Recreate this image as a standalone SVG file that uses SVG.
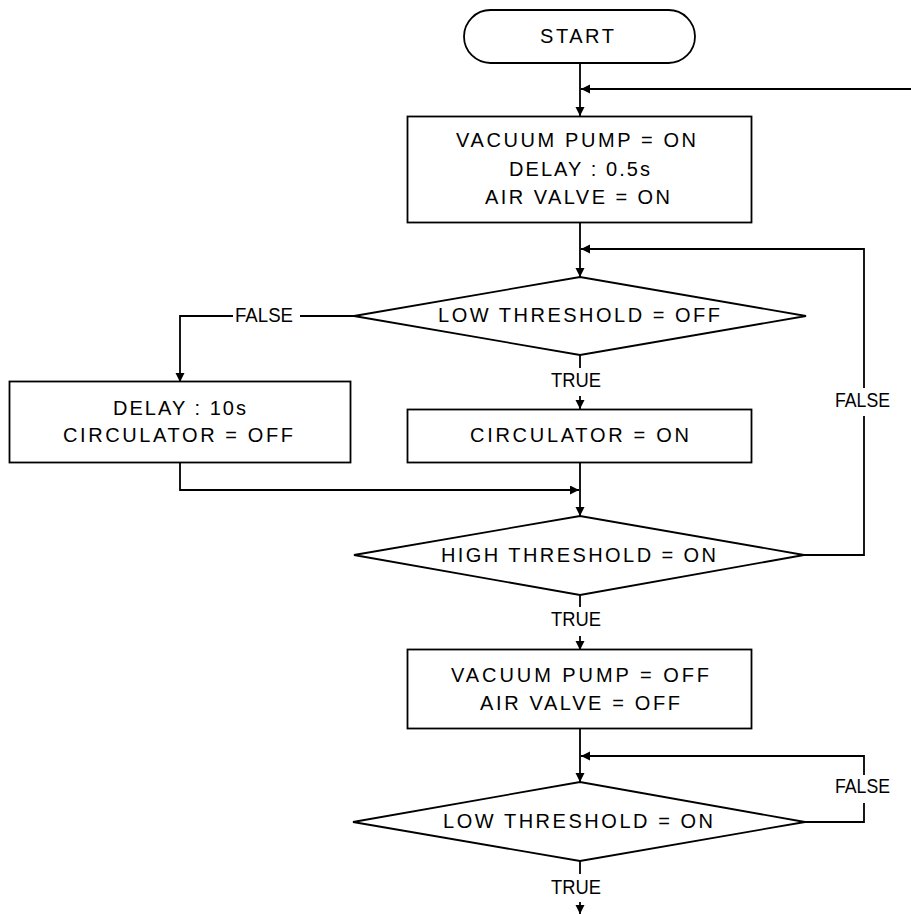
<svg xmlns="http://www.w3.org/2000/svg" width="911" height="914" viewBox="0 0 911 914">
<defs>
<style>
.s{fill:#fff;stroke:#000;stroke-width:1.8}
.c{fill:none;stroke:#000;stroke-width:1.8}
text{font-family:"Liberation Sans",Arial,sans-serif;font-size:20px;fill:#000}
</style>
<marker id="ah" markerUnits="userSpaceOnUse" markerWidth="10" markerHeight="10" refX="9" refY="4.5" orient="auto" viewBox="0 0 10 10">
<path d="M0,0 L9,4.5 L0,9 Z" fill="#000"/>
</marker>
</defs>
<rect width="911" height="914" fill="#fff"/>
<g id="connectors">
<line class="c" x1="580" y1="63" x2="580" y2="116" marker-end="url(#ah)"/>
<line class="c" x1="911" y1="89" x2="581" y2="89" marker-end="url(#ah)"/>
<line class="c" x1="580" y1="223" x2="580" y2="277" marker-end="url(#ah)"/>
<polyline class="c" points="804,555 864,555 864,416"/>
<polyline class="c" points="864,388 864,249 581,249" marker-end="url(#ah)"/>
<line class="c" x1="354" y1="316" x2="300" y2="316"/>
<polyline class="c" points="233,316 180,316 180,382" marker-end="url(#ah)"/>
<line class="c" x1="580" y1="355" x2="580" y2="368"/>
<line class="c" x1="580" y1="396" x2="580" y2="409" marker-end="url(#ah)"/>
<line class="c" x1="580" y1="463" x2="580" y2="516" marker-end="url(#ah)"/>
<polyline class="c" points="180,463 180,490 579,490" marker-end="url(#ah)"/>
<line class="c" x1="580" y1="595" x2="580" y2="607"/>
<line class="c" x1="580" y1="636" x2="580" y2="650" marker-end="url(#ah)"/>
<line class="c" x1="580" y1="729" x2="580" y2="782" marker-end="url(#ah)"/>
<polyline class="c" points="805,822 864,822 864,803"/>
<polyline class="c" points="864,775 864,756 581,756" marker-end="url(#ah)"/>
<line class="c" x1="580" y1="861" x2="580" y2="874"/>
<line class="c" x1="580" y1="902" x2="580" y2="914" marker-end="url(#ah)"/>
<text x="235" y="322" textLength="58" lengthAdjust="spacingAndGlyphs">FALSE</text>
<text x="835" y="407" textLength="55" lengthAdjust="spacingAndGlyphs">FALSE</text>
<text x="835" y="793" textLength="55" lengthAdjust="spacingAndGlyphs">FALSE</text>
<text x="551" y="387" textLength="50" lengthAdjust="spacingAndGlyphs">TRUE</text>
<text x="551" y="626" textLength="50" lengthAdjust="spacingAndGlyphs">TRUE</text>
<text x="551" y="894" textLength="50" lengthAdjust="spacingAndGlyphs">TRUE</text>
</g>
<g id="start">
<rect class="s" x="464" y="10" width="231" height="53" rx="26.5"/>
<text x="540" y="43" textLength="74" lengthAdjust="spacing">START</text>
</g>
<g id="init">
<rect class="s" x="407.5" y="116.5" width="344" height="106"/>
<text x="456" y="147" textLength="240" lengthAdjust="spacing">VACUUM PUMP = ON</text>
<text x="509" y="175.5" textLength="141" lengthAdjust="spacing">DELAY : 0.5s</text>
<text x="485" y="204" textLength="185" lengthAdjust="spacing">AIR VALVE = ON</text>
</g>
<g id="lowOff">
<polygon class="s" points="354,316 580,277 806,316 580,355"/>
<text x="438" y="322" textLength="282" lengthAdjust="spacing">LOW THRESHOLD = OFF</text>
</g>
<g id="delay">
<rect class="s" x="9.5" y="381.5" width="341" height="81"/>
<text x="113" y="415" textLength="133" lengthAdjust="spacing">DELAY : 10s</text>
<text x="63" y="442" textLength="230" lengthAdjust="spacing">CIRCULATOR = OFF</text>
</g>
<g id="circOn">
<rect class="s" x="407.5" y="409.5" width="344" height="53"/>
<text x="470" y="442" textLength="219" lengthAdjust="spacing">CIRCULATOR = ON</text>
</g>
<g id="highOn">
<polygon class="s" points="354,555 580,516 804,555 580,595"/>
<text x="441" y="562" textLength="275" lengthAdjust="spacing">HIGH THRESHOLD = ON</text>
</g>
<g id="off">
<rect class="s" x="407.5" y="649.5" width="344" height="79"/>
<text x="451" y="682" textLength="258" lengthAdjust="spacing">VACUUM PUMP = OFF</text>
<text x="480" y="710" textLength="200" lengthAdjust="spacing">AIR VALVE = OFF</text>
</g>
<g id="lowOn">
<polygon class="s" points="353,822 580,782 805,822 580,861"/>
<text x="443" y="828" textLength="270" lengthAdjust="spacing">LOW THRESHOLD = ON</text>
</g>
</svg>
